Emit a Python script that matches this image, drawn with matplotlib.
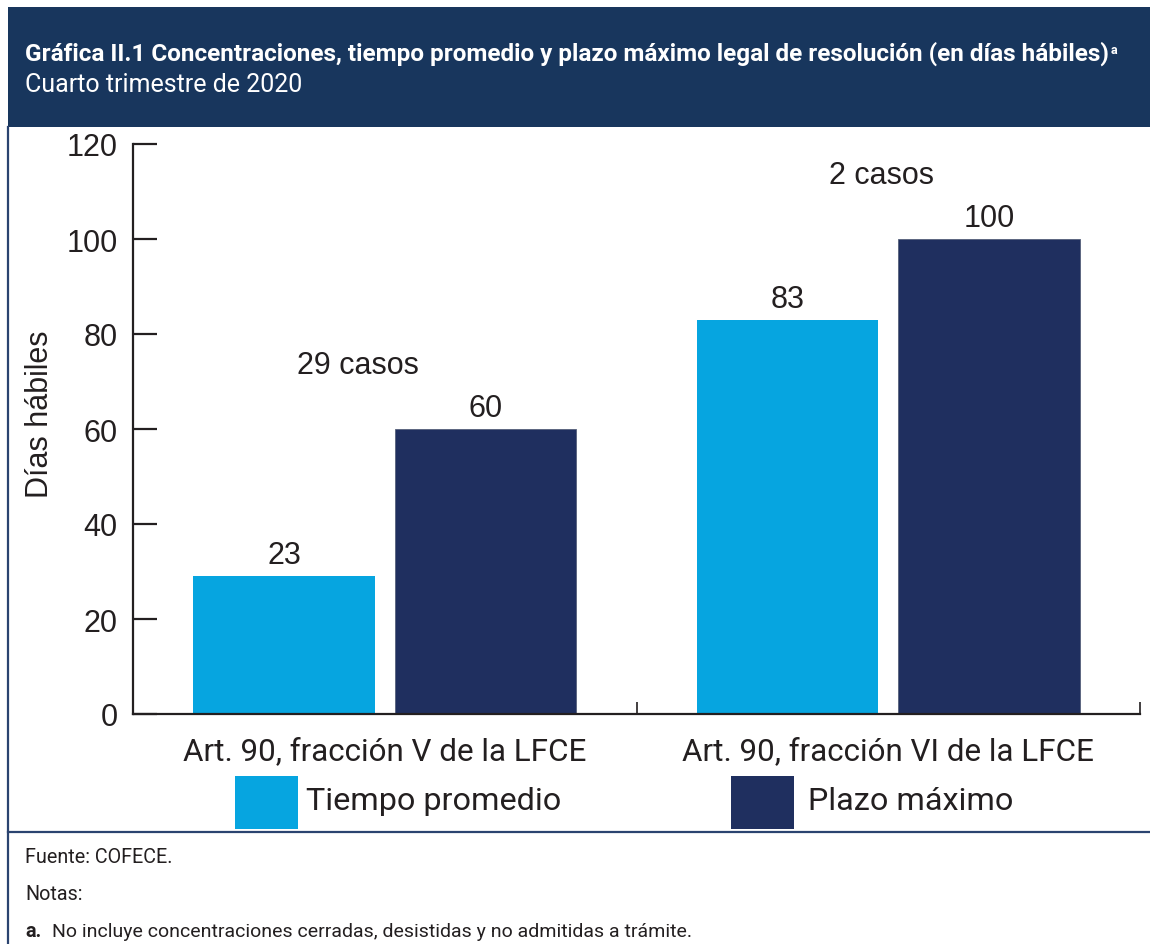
import matplotlib
matplotlib.use("Agg")
import matplotlib.pyplot as plt
import numpy as np
from matplotlib import font_manager
from matplotlib.patches import Rectangle
from matplotlib.lines import Line2D

# ---------------- data ----------------
categorias = ["Art. 90, fracción V de la LFCE", "Art. 90, fracción VI de la LFCE"]
tiempo_promedio = [29, 83]        # altura dibujada de las barras
plazo_maximo = [60, 100]
etiq_promedio = ["23", "83"]      # etiquetas mostradas sobre las barras
etiq_maximo = ["60", "100"]
casos = ["29 casos", "2 casos"]
casos_pos = [(-0.054, 73.5), (0.986, 113.5)]
yticks = [0, 20, 40, 60, 80, 100, 120]
serie_nombres = ["Tiempo promedio", "Plazo máximo"]

titulo = "Gráfica II.1 Concentraciones, tiempo promedio y plazo máximo legal de resolución (en días hábiles)"
subtitulo = "Cuarto trimestre de 2020"
fuente = "Fuente: COFECE."
notas = "Notas:"
nota_a = "No incluye concentraciones cerradas, desistidas y no admitidas a trámite."

# ---------------- style ----------------
c_light = "#06A5E0"
c_dark = "#1F2F5F"
c_header = "#18365D"
c_frame = "#2B4470"
c_text = "#231F20"

names = {f.name for f in font_manager.fontManager.ttflist}
narrow = "Liberation Sans Narrow" if "Liberation Sans Narrow" in names else "Roboto"
sans = "Liberation Sans"
plt.rcParams['font.family'] = [sans, 'DejaVu Sans']
nfam = [narrow, 'DejaVu Sans']

W, H = 1150, 945
fig = plt.figure(figsize=(W / 100, H / 100), dpi=100)

def fx(px):
    return px / W

def fy(py):
    return 1 - py / H

# header box
fig.add_artist(Rectangle((fx(8), fy(128)), 1 - fx(8), fy(8) - fy(128),
                         transform=fig.transFigure, facecolor=c_header, edgecolor='none'))
t = fig.text(fx(25), fy(54), titulo, color='white', fontsize=17.5, fontweight='bold',
             family=nfam, va='center', ha='left')
ann = plt.Annotation("a", xy=(1, 0.9), xycoords=t, xytext=(1.5, 0), textcoords='offset points',
                     color='white', fontsize=9, fontweight='bold', family=nfam,
                     ha='left', va='top')
fig.add_artist(ann)
fig.text(fx(25), fy(85), subtitulo, color='white', fontsize=18,
         family=nfam, va='center', ha='left')

# frame lines
fig.add_artist(Line2D([fx(8), fx(8)], [fy(128), 0], transform=fig.transFigure,
                      color=c_frame, lw=1.6))
fig.add_artist(Line2D([fx(8), 1], [fy(833), fy(833)], transform=fig.transFigure,
                      color=c_frame, lw=1.6))

# ---------------- chart ----------------
ax = fig.add_axes([fx(133), fy(715), fx(1140) - fx(133), fy(145) - fy(715)])
x = np.arange(len(categorias))
w = 0.36
b1 = ax.bar(x - 0.2, tiempo_promedio, width=w, color=c_light, zorder=2)
b2 = ax.bar(x + 0.2, plazo_maximo, width=w, color=c_dark, edgecolor='#55607A',
            linewidth=0.6, zorder=2)

for bars, labs in ((b1, etiq_promedio), (b2, etiq_maximo)):
    for rect, lab in zip(bars, labs):
        ax.annotate(lab, (rect.get_x() + rect.get_width() / 2, rect.get_height()),
                    xytext=(0, 15), textcoords='offset points', ha='center', va='center',
                    fontsize=22, color=c_text)

for txt, (px, py) in zip(casos, casos_pos):
    ax.text(px, py, txt, ha='center', va='center', fontsize=22, color=c_text)

ax.set_xlim(-0.5, 1.5)
ax.set_ylim(0, 120)
for s in ('top', 'right'):
    ax.spines[s].set_visible(False)
for s in ('left', 'bottom'):
    ax.spines[s].set_color(c_text)
    ax.spines[s].set_linewidth(1.6)
    ax.spines[s].set_zorder(3)

ax.set_yticks(yticks)
ax.tick_params(axis='y', direction='in', length=17, width=1.6, color=c_text,
               labelsize=22, labelcolor=c_text, pad=11)
ax.set_xticks([0.5, 1.5])
ax.set_xticklabels([])
ax.tick_params(axis='x', which='major', direction='in', length=9, width=1.2, color=c_text)
ax.set_xticks(x, minor=True)
ax.set_xticklabels(categorias, minor=True, fontsize=22.6, color=c_text, family=nfam)
ax.tick_params(axis='x', which='minor', length=0, pad=16)

fig.text(fx(40), fy(414), "Días hábiles", rotation=90, fontsize=22, color=c_text,
         ha='center', va='center')

# legend
leg_items = [(235, c_light, serie_nombres[0], 306), (731, c_dark, serie_nombres[1], 808)]
for x0, col, name, tx in leg_items:
    fig.add_artist(Rectangle((fx(x0), fy(830)), fx(63), fy(777) - fy(830),
                             transform=fig.transFigure, facecolor=col, edgecolor='none'))
    fig.text(fx(tx), fy(802), name, fontsize=23.3, color=c_text, va='center', ha='left',
             family=nfam)

# footer
fig.text(fx(25), fy(858), fuente, fontsize=14.2, color=c_text, va='center', family=nfam)
fig.text(fx(25), fy(895), notas, fontsize=14.2, color=c_text, va='center', family=nfam)
fig.text(fx(25), fy(932), "a.", fontsize=14.2, color=c_text, va='center', fontweight='bold',
         family=nfam)
fig.text(fx(52), fy(932), nota_a, fontsize=14, color=c_text, va='center', family=nfam)

fig.savefig("out.png", dpi=100)
